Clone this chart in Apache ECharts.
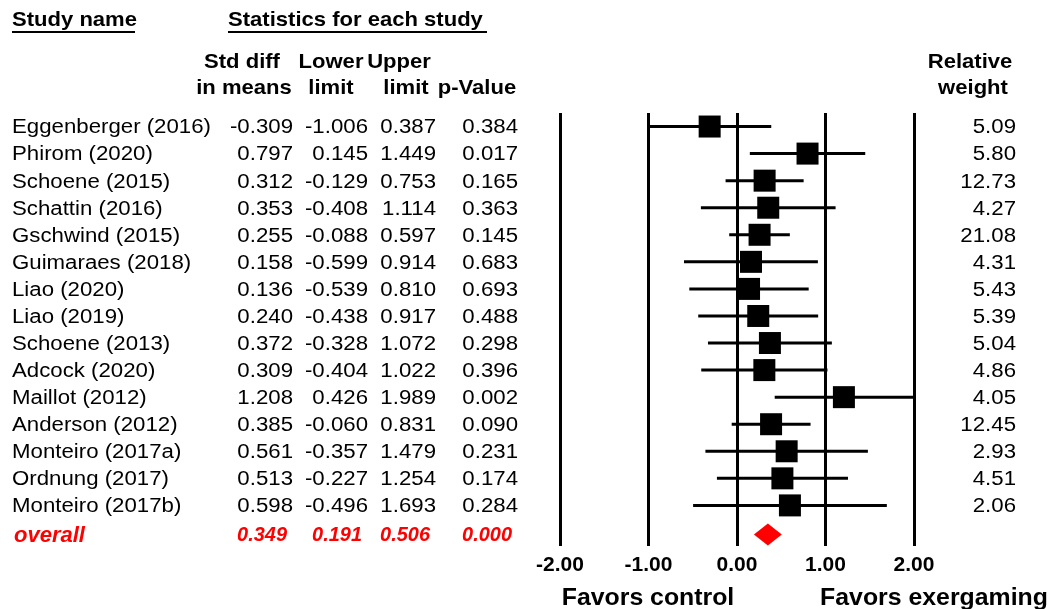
<!DOCTYPE html>
<html>
<head>
<meta charset="utf-8">
<script src="https://cdn.jsdelivr.net/npm/echarts@6/dist/echarts.min.js"></script>
<style>
html,body{margin:0;padding:0;background:#fff;}
#chart{width:1049px;height:609px;}
</style>
</head>
<body>
<div id="chart"></div>
<script>
// ---------- DATA ----------
const studies = ['Eggenberger (2016)','Phirom (2020)','Schoene (2015)','Schattin (2016)','Gschwind (2015)','Guimaraes (2018)','Liao (2020)','Liao (2019)','Schoene (2013)','Adcock (2020)','Maillot (2012)','Anderson (2012)','Monteiro (2017a)','Ordnung (2017)','Monteiro (2017b)'];
const stdDiff = [-0.309,0.797,0.312,0.353,0.255,0.158,0.136,0.240,0.372,0.309,1.208,0.385,0.561,0.513,0.598];
const lowerLimit = [-1.006,0.145,-0.129,-0.408,-0.088,-0.599,-0.539,-0.438,-0.328,-0.404,0.426,-0.060,-0.357,-0.227,-0.496];
const upperLimit = [0.387,1.449,0.753,1.114,0.597,0.914,0.810,0.917,1.072,1.022,1.989,0.831,1.479,1.254,1.693];
const pValues = [0.384,0.017,0.165,0.363,0.145,0.683,0.693,0.488,0.298,0.396,0.002,0.090,0.231,0.174,0.284];
const relWeight = [5.09,5.80,12.73,4.27,21.08,4.31,5.43,5.39,5.04,4.86,4.05,12.45,2.93,4.51,2.06];
const overallLabel = 'overall';
const overallMean = 0.349, overallLower = 0.191, overallUpper = 0.506, overallP = 0.000;
const xTicks = [-2,-1,0,1,2];
const favorLabels = ['Favors control','Favors exergaming'];

// ---------- LAYOUT / STYLE ----------
const FONT = '"Liberation Sans", Arial, Helvetica, sans-serif';
const BODY_SIZE = 19.5, BODY_SX = 1.14, TEXT_DY = 1.5;
const HEAD_SIZE = 21, HEAD_SX = 1.05;
const categories = studies.concat([overallLabel]);
const nRows = categories.length;

function textItem(x, y, text, opt) {
  opt = opt || {};
  return {
    type: 'text', x: x, y: y, scaleX: opt.sx || BODY_SX, silent: true,
    style: {
      x: 0, y: 0, text: text,
      align: opt.align || 'right', verticalAlign: 'middle',
      fontFamily: FONT, fontSize: opt.size || BODY_SIZE,
      fontWeight: opt.weight || 'normal', fontStyle: opt.style || 'normal',
      fill: opt.color || '#000'
    }
  };
}

// text column series: strings placed on the forest plot's row axis
function textColumn(name, texts, colX, align, overallText) {
  const data = categories.map((c, i) => [0, i]);
  return {
    type: 'custom', name: name, xAxisIndex: 0, yAxisIndex: 0, clip: false, silent: true,
    data: data,
    renderItem: function (params, api) {
      const i = api.value(1);
      const y = api.coord([0, i])[1] + TEXT_DY;
      if (i === nRows - 1) {
        const isLabel = align === 'left';
        return textItem(colX + (isLabel ? 2 : -6), y + 1.5, overallText,
          { align: align, color: '#ff0000', weight: 'bold', style: 'italic', size: isLabel ? 22 : 21, sx: isLabel ? 1.0 : 0.95 });
      }
      return textItem(colX, y, texts[i], { align: align });
    }
  };
}

const fmt3 = v => v.toFixed(3);

const chart = echarts.init(document.getElementById('chart'), null, { renderer: 'canvas' });

const forestData = stdDiff.map((m, i) => [lowerLimit[i], upperLimit[i], m, i]);
const H = { weight: 'bold', size: HEAD_SIZE, sx: HEAD_SX };

const option = {
  backgroundColor: '#fff',
  animation: false,
  grid: { left: 560, width: 354, top: 113, height: 433 },
  xAxis: {
    type: 'value', min: xTicks[0], max: xTicks[xTicks.length - 1], interval: 1,
    axisLine: { show: false }, axisTick: { show: false },
    splitLine: { show: true, lineStyle: { color: '#000', width: 3 } },
    axisLabel: {
      margin: 9, color: '#000', fontFamily: FONT, fontWeight: 'bold', fontSize: 21,
      formatter: v => v.toFixed(2)
    }
  },
  yAxis: {
    type: 'category', data: categories, inverse: true,
    axisLine: { show: false }, axisTick: { show: false }, axisLabel: { show: false },
    splitLine: { show: false }
  },
  graphic: [
    textItem(12, 20, 'Study name', Object.assign({ align: 'left' }, H)),
    { type: 'rect', shape: { x: 12, y: 31, width: 123, height: 2 }, style: { fill: '#000' } },
    textItem(228, 20, 'Statistics for each study', Object.assign({ align: 'left' }, H)),
    { type: 'rect', shape: { x: 228, y: 31, width: 259, height: 2 }, style: { fill: '#000' } },
    textItem(242, 62, 'Std diff', Object.assign({ align: 'center' }, H)),
    textItem(331, 62, 'Lower', Object.assign({ align: 'center' }, H)),
    textItem(399, 62, 'Upper', Object.assign({ align: 'center' }, H)),
    textItem(244, 88, 'in means', Object.assign({ align: 'center' }, H)),
    textItem(331, 88, 'limit', Object.assign({ align: 'center' }, H)),
    textItem(406, 88, 'limit', Object.assign({ align: 'center' }, H)),
    textItem(477, 88, 'p-Value', Object.assign({ align: 'center' }, H)),
    textItem(970, 62, 'Relative', Object.assign({ align: 'center' }, H)),
    textItem(973, 88, 'weight', Object.assign({ align: 'center' }, H)),
    textItem(648, 599, favorLabels[0], { align: 'center', weight: 'bold', size: 23, sx: 1.08 }),
    textItem(934, 599, favorLabels[1], { align: 'center', weight: 'bold', size: 23, sx: 1.08 })
  ],
  series: [
    textColumn('study', studies, 12, 'left', overallLabel),
    textColumn('std', stdDiff.map(fmt3), 293, 'right', fmt3(overallMean)),
    textColumn('lower', lowerLimit.map(fmt3), 368, 'right', fmt3(overallLower)),
    textColumn('upper', upperLimit.map(fmt3), 436, 'right', fmt3(overallUpper)),
    textColumn('p', pValues.map(fmt3), 518, 'right', fmt3(overallP)),
    {
      type: 'custom', name: 'weight', clip: false, silent: true,
      data: relWeight.map((w, i) => [0, i, w]),
      renderItem: function (params, api) {
        const i = api.value(1);
        const y = api.coord([0, i])[1] + TEXT_DY;
        return textItem(1016, y, api.value(2).toFixed(2), { align: 'right' });
      }
    },
    {
      type: 'custom', name: 'forest', clip: false, silent: true,
      data: forestData,
      encode: { x: [0, 1, 2], y: 3 },
      renderItem: function (params, api) {
        const lo = api.coord([api.value(0), api.value(3)]);
        const hi = api.coord([api.value(1), api.value(3)]);
        const mid = api.coord([api.value(2), api.value(3)]);
        const s = 22;
        return {
          type: 'group',
          children: [
            { type: 'line', shape: { x1: lo[0], y1: lo[1], x2: hi[0], y2: hi[1] }, style: { stroke: '#000', lineWidth: 3 } },
            { type: 'rect', shape: { x: mid[0] - s / 2, y: mid[1] - s / 2, width: s, height: s }, style: { fill: '#000' } }
          ]
        };
      }
    },
    {
      type: 'custom', name: 'overall', clip: false, silent: true,
      data: [[overallLower, overallUpper, overallMean, nRows - 1]],
      encode: { x: [0, 1, 2], y: 3 },
      renderItem: function (params, api) {
        const lo = api.coord([api.value(0), api.value(3)]);
        const hi = api.coord([api.value(1), api.value(3)]);
        const mid = api.coord([api.value(2), api.value(3)]);
        const h = 11, dy = 2;
        return {
          type: 'polygon',
          shape: { points: [[lo[0], lo[1] + dy], [mid[0], mid[1] + dy - h], [hi[0], hi[1] + dy], [mid[0], mid[1] + dy + h]] },
          style: { fill: '#ff0000' }
        };
      }
    }
  ]
};
chart.setOption(option);
</script>
</body>
</html>
